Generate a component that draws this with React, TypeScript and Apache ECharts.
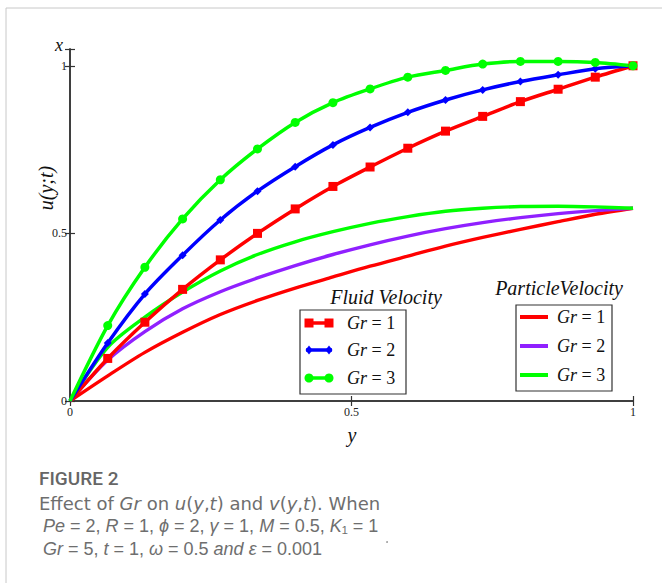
import React, { useEffect, useRef } from "react";
import * as echarts from "echarts";

// y positions (horizontal axis)
const Y_POS = [0, 0.067, 0.133, 0.2, 0.267, 0.333, 0.4, 0.467, 0.533, 0.6, 0.667, 0.733, 0.8, 0.867, 0.933, 1];
// Fluid velocity u(y,t)
const FLUID_GR1 = [0, 0.127, 0.235, 0.333, 0.421, 0.5, 0.573, 0.64, 0.698, 0.754, 0.805, 0.849, 0.893, 0.93, 0.966, 1.0];
const FLUID_GR2 = [0, 0.173, 0.319, 0.435, 0.54, 0.626, 0.699, 0.764, 0.816, 0.861, 0.898, 0.928, 0.953, 0.973, 0.991, 1.0];
const FLUID_GR3 = [0, 0.225, 0.399, 0.543, 0.66, 0.752, 0.831, 0.89, 0.931, 0.966, 0.986, 1.005, 1.013, 1.013, 1.01, 1.0];
// Particle velocity v(y,t)
const PARTICLE_GR1 = [0, 0.075, 0.145, 0.205, 0.258, 0.3, 0.337, 0.37, 0.402, 0.432, 0.462, 0.488, 0.512, 0.535, 0.557, 0.575];
const PARTICLE_GR2 = [0, 0.122, 0.207, 0.275, 0.326, 0.367, 0.404, 0.437, 0.466, 0.492, 0.514, 0.532, 0.547, 0.559, 0.568, 0.575];
const PARTICLE_GR3 = [0, 0.16, 0.25, 0.325, 0.388, 0.437, 0.475, 0.505, 0.53, 0.55, 0.566, 0.575, 0.58, 0.581, 0.579, 0.575];

const LEGEND_LABELS = ["1", "2", "3"];
const AXIS_TICKS = [0, 0.5, 1];

const RED = "#ff0000";
const BLUE = "#0000ff";
const GREEN = "#00ff00";
const PURPLE = "#9020ff";
const SERIF = "'Liberation Serif', 'Times New Roman', serif";
const CAPTION_FONT = "'DejaVu Sans', 'Open Sans', sans-serif";
const MATH_FONT = "'Liberation Sans', Arial, sans-serif";
const HEAD_FONT = "Roboto, 'Open Sans', sans-serif";

function pairs(vals: number[]) {
  return vals.map((v, i) => [Y_POS[i], v]);
}

export default function App() {
  const ref = useRef<HTMLDivElement>(null);
  useEffect(() => {
    if (!ref.current) return;
    const chart = echarts.init(ref.current, null, { renderer: "svg" });

    const axisLine = { show: true, lineStyle: { color: "#333", width: 1.5 } };
    const tick = { show: true, inside: true, length: 5, lineStyle: { color: "#333", width: 1.2 } };
    const tickLabel = {
      fontFamily: SERIF,
      fontSize: 12,
      color: "#222",
      formatter: (v: number) => (AXIS_TICKS.indexOf(Math.round(v * 1000) / 1000) >= 0 ? String(v) : ""),
    };

    const fluid = (name: string, data: number[], color: string, symbol: string, size: number) => ({
      name,
      type: "line",
      data: pairs(data),
      smooth: 0.3,
      symbol,
      symbolSize: (v: any) => (v[0] === 0 ? 0 : size),
      showSymbol: true,
      lineStyle: { color, width: 3.5 },
      itemStyle: { color },
      z: 3,
    });
    const particle = (name: string, data: number[], color: string) => ({
      name,
      type: "line",
      data: pairs(data),
      smooth: 0.3,
      symbol: "none",
      lineStyle: { color, width: 3.4 },
      itemStyle: { color },
      z: 2,
    });

    const legendText = (n: string) => `{i|Gr} = ${n}`;
    const rich = { i: { fontStyle: "italic", fontFamily: SERIF, fontSize: 18, fill: "#111" } } as any;

    const fluidRows = [323, 350, 378];
    const partRows = [317, 346, 375];
    const fluidColors = [RED, BLUE, GREEN];
    const partColors = [RED, PURPLE, GREEN];

    const center = { textAlign: "center", textVerticalAlign: "middle", align: "center", verticalAlign: "middle" };
    const leftMid = { textAlign: "left", textVerticalAlign: "middle", align: "left", verticalAlign: "middle" };

    const graphics: any[] = [];
    // card border
    graphics.push({ type: "line", shape: { x1: 6, y1: 8, x2: 662, y2: 8 }, style: { stroke: "#c8c8c8", lineWidth: 1 } });
    graphics.push({ type: "line", shape: { x1: 6, y1: 8, x2: 6, y2: 583 }, style: { stroke: "#c8c8c8", lineWidth: 1 } });

    // axis names
    graphics.push({ type: "text", x: 59, y: 45, style: { text: "x", font: `italic 18px ${SERIF}`, fill: "#111", ...center } });
    graphics.push({
      type: "text", x: 46, y: 188, rotation: Math.PI / 2,
      style: { text: "u(y;t)", font: `italic 20px ${SERIF}`, fill: "#111", ...center },
    });
    graphics.push({ type: "text", x: 352, y: 435, style: { text: "y", font: `italic 20px ${SERIF}`, fill: "#111", ...center } });

    // Fluid legend
    graphics.push({
      type: "text", x: 386, y: 297, z: 10,
      style: { text: "Fluid Velocity", font: `italic 20px ${SERIF}`, fill: "#111", ...center },
    });
    graphics.push({ type: "rect", z: 10, shape: { x: 300, y: 310, width: 106, height: 84 }, style: { fill: "#fff", stroke: "#333", lineWidth: 1.2 } });
    fluidRows.forEach((y, k) => {
      const c = fluidColors[k];
      graphics.push({ type: "line", z: 11, shape: { x1: 306, y1: y, x2: 332, y2: y }, style: { stroke: c, lineWidth: 3.5 } });
      [309, 329].forEach((cx) => {
        if (k === 0) graphics.push({ type: "rect", z: 12, shape: { x: cx - 4.5, y: y - 4.5, width: 9, height: 9 }, style: { fill: c } });
        else if (k === 1) graphics.push({ type: "polygon", z: 12, shape: { points: [[cx, y - 4.5], [cx + 3.5, y], [cx, y + 4.5], [cx - 3.5, y]] }, style: { fill: c } });
        else graphics.push({ type: "circle", z: 12, shape: { cx, cy: y, r: 4.5 }, style: { fill: c } });
      });
      graphics.push({
        type: "text", x: 347, y, z: 12,
        style: { text: legendText(LEGEND_LABELS[k]), rich, font: `18px ${SERIF}`, fill: "#111", ...leftMid },
      });
    });

    // Particle legend
    graphics.push({
      type: "text", x: 559, y: 288, z: 10,
      style: { text: "ParticleVelocity", font: `italic 20px ${SERIF}`, fill: "#111", ...center },
    });
    graphics.push({ type: "rect", z: 10, shape: { x: 516, y: 305, width: 96, height: 86 }, style: { fill: "#fff", stroke: "#333", lineWidth: 1.2 } });
    partRows.forEach((y, k) => {
      graphics.push({ type: "line", z: 11, shape: { x1: 520, y1: y, x2: 548, y2: y }, style: { stroke: partColors[k], lineWidth: 4 } });
      graphics.push({
        type: "text", x: 557, y, z: 12,
        style: { text: legendText(LEGEND_LABELS[k]), rich, font: `18px ${SERIF}`, fill: "#111", ...leftMid },
      });
    });

    // Caption
    const capRich = {
      i: { fontStyle: "italic", fontFamily: CAPTION_FONT, fontSize: 18, lineHeight: 19, fill: "#6e6e6e" },
    } as any;
    const mathRich = {
      i: { fontStyle: "italic", fontFamily: MATH_FONT, fontSize: 18, lineHeight: 19, fill: "#6e6e6e" },
    } as any;
    graphics.push({
      type: "text", x: 39, y: 478,
      style: { text: "FIGURE 2", font: `500 19px ${HEAD_FONT}`, fill: "#666", lineHeight: 19, ...leftMid },
    });
    graphics.push({
      type: "text", x: 39, y: 503,
      style: {
        text: "Effect of {i|Gr} on {i|u}({i|y},{i|t}) and {i|v}({i|y},{i|t}). When",
        rich: capRich, font: `18px ${CAPTION_FONT}`, lineHeight: 19, fill: "#6e6e6e", ...leftMid,
      },
    });
    const mathLines = [
      "{i|Pe} = 2, {i|R} = 1, {i|ϕ} = 2, {i|γ} = 1, {i|M} = 0.5, {i|K}₁ = 1",
      "{i|Gr} = 5, {i|t} = 1, {i|ω} = 0.5 {i|and} {i|ε} = 0.001",
    ];
    [526, 549].forEach((y, k) => {
      graphics.push({
        type: "text", x: 43, y,
        style: { text: mathLines[k], rich: mathRich, font: `18px ${MATH_FONT}`, lineHeight: 19, fill: "#6e6e6e", ...leftMid },
      });
    });
    graphics.push({ type: "circle", shape: { cx: 387, cy: 542, r: 0.8 }, style: { fill: "#888" } });

    chart.setOption({
      animation: false,
      backgroundColor: "#fff",
      grid: { left: 70, right: 29, top: 49, bottom: 182, containLabel: false },
      xAxis: [
        {
          type: "value", min: 0, max: 1, interval: 0.5, position: "bottom",
          axisLine, axisTick: tick, splitLine: { show: false },
          axisLabel: { ...tickLabel, margin: 5 },
        },
        {
          type: "value", min: 0, max: 1, interval: 0.5, position: "top",
          axisLine, axisTick: tick, splitLine: { show: false }, axisLabel: { show: false },
        },
      ],
      yAxis: [
        {
          type: "value", min: 0, max: 1.05, interval: 0.5, position: "left",
          axisLine, axisTick: tick, splitLine: { show: false },
          axisLabel: { ...tickLabel, margin: 3 },
        },
        {
          type: "value", min: 0, max: 1.05, interval: 0.5, position: "right",
          axisLine, axisTick: tick, splitLine: { show: false }, axisLabel: { show: false },
        },
      ],
      series: [
        particle("Particle Gr = 1", PARTICLE_GR1, RED),
        particle("Particle Gr = 2", PARTICLE_GR2, PURPLE),
        particle("Particle Gr = 3", PARTICLE_GR3, GREEN),
        fluid("Fluid Gr = 1", FLUID_GR1, RED, "rect", 9),
        fluid("Fluid Gr = 2", FLUID_GR2, BLUE, "diamond", 8),
        fluid("Fluid Gr = 3", FLUID_GR3, GREEN, "circle", 9),
      ],
      graphic: { elements: graphics },
    });
    return () => chart.dispose();
  }, []);

  return (
    <div
      ref={ref}
      style={{ position: "fixed", left: 0, top: 0, width: 662, height: 583, background: "#fff" }}
    />
  );
}
